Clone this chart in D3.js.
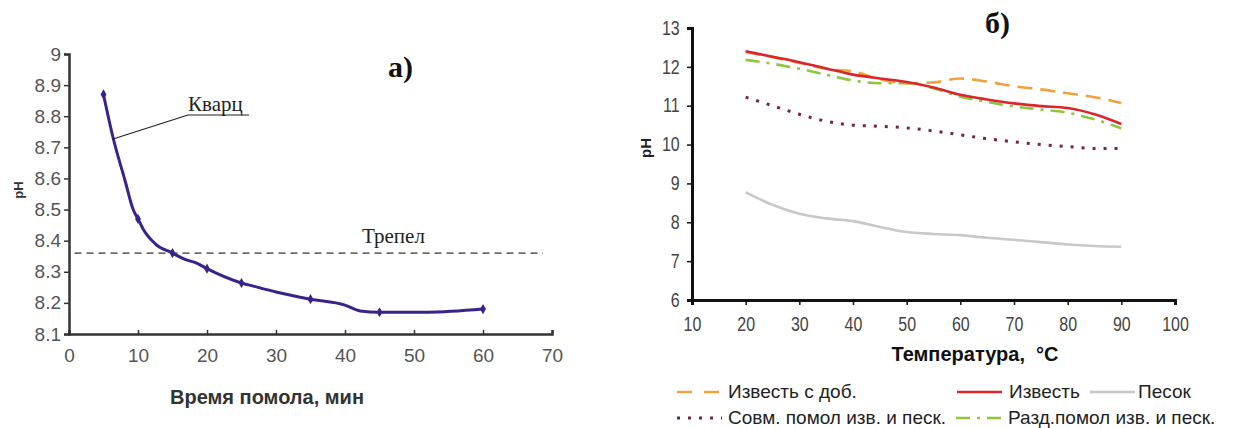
<!DOCTYPE html>
<html>
<head>
<meta charset="utf-8">
<script src="https://cdn.jsdelivr.net/npm/d3@7"></script>
<style>
  body { margin: 0; background: #fff; }
</style>
</head>
<body>
<div id="chart"></div>
<script>
// ---- data: panel a) ----
const grindTime = [5, 6.4, 8.1, 9.3, 10, 10.8, 12.5, 15, 16.8, 18.5, 20, 25, 26.7, 30, 35, 40, 42.2, 45, 52, 60];
const quartzPh  = [8.87, 8.73, 8.595, 8.5, 8.47, 8.435, 8.39, 8.36, 8.34, 8.328, 8.31, 8.264, 8.254, 8.235, 8.212, 8.193, 8.174, 8.17, 8.17, 8.18];
const markerTimes = [5, 10, 15, 20, 25, 35, 45, 60];
const tripoliPh = 8.36;
const aTicksX = [0, 10, 20, 30, 40, 50, 60, 70];
const aTicksY = [8.1, 8.2, 8.3, 8.4, 8.5, 8.6, 8.7, 8.8, 8.9, 9];

// ---- data: panel б) ----
const temps = [20, 25, 30, 35, 40, 45, 50, 55, 60, 65, 70, 75, 80, 85, 90];
const limeAdd  = [12.38, 12.25, 12.1, 11.95, 11.88, 11.68, 11.58, 11.6, 11.7, 11.62, 11.5, 11.42, 11.32, 11.22, 11.07];
const lime     = [12.4, 12.26, 12.12, 11.96, 11.8, 11.7, 11.61, 11.47, 11.28, 11.16, 11.06, 10.99, 10.94, 10.78, 10.53];
const sand     = [8.77, 8.45, 8.22, 8.1, 8.03, 7.88, 7.75, 7.7, 7.67, 7.6, 7.55, 7.49, 7.43, 7.39, 7.37];
const coGrind  = [11.22, 11.0, 10.78, 10.6, 10.5, 10.47, 10.43, 10.35, 10.25, 10.15, 10.07, 10.0, 9.95, 9.9, 9.9];
const sepGrind = [12.18, 12.08, 11.95, 11.8, 11.65, 11.58, 11.58, 11.45, 11.23, 11.1, 10.98, 10.9, 10.82, 10.65, 10.42];
const bTicksX = [10, 20, 30, 40, 50, 60, 70, 80, 90, 100];
const bTicksY = [6, 7, 8, 9, 10, 11, 12, 13];

const series = [
  { name: 'Известь с доб.', values: limeAdd, color: '#f0a23c', dash: '15,8', lx: 677, ly: 392, tx: 728 },
  { name: 'Известь', values: lime, color: '#d8262b', dash: null, lx: 957, ly: 392, tx: 1009 },
  { name: 'Песок', values: sand, color: '#c8c8c8', dash: null, lx: 1090, ly: 392, tx: 1138 },
  { name: 'Совм. помол изв. и песк.', values: coGrind, color: '#7b2340', dash: '3,8', lx: 677, ly: 418, tx: 728 },
  { name: 'Разд.помол изв. и песк.', values: sepGrind, color: '#8dc63f', dash: '14,7,3,7', lx: 956, ly: 418, tx: 1008 }
];

const sans = '"Liberation Sans", Arial, sans-serif';
const serif = '"Liberation Serif", "Times New Roman", serif';

const svg = d3.select('#chart')
  .append('svg')
  .attr('width', 1233)
  .attr('height', 428)
  .attr('font-family', sans);

// ================= panel a) =================
const xa = d3.scaleLinear().domain([0, 70]).range([69, 552]);
const ya = d3.scaleLinear().domain([8.1, 9]).range([334, 54]);

const axA = svg.append('g');
axA.append('g')
  .attr('transform', 'translate(0,334)')
  .call(d3.axisBottom(xa).tickValues(aTicksX).tickSize(-4).tickPadding(15).tickFormat(d3.format('d')))
  .call(g => g.selectAll('text').attr('font-size', 19).attr('font-family', sans).attr('fill', '#555'));
axA.append('g')
  .attr('transform', 'translate(69,0)')
  .call(d3.axisLeft(ya).tickValues(aTicksY).tickSize(5).tickPadding(3).tickFormat(d => +d.toFixed(1)))
  .call(g => g.selectAll('text').attr('font-size', 19).attr('font-family', sans).attr('fill', '#555'));
axA.selectAll('.domain').attr('stroke', '#333').attr('stroke-width', 2.5);
axA.selectAll('.tick line').attr('stroke', '#333').attr('stroke-width', 1.5);

// Трепел reference line
svg.append('line')
  .attr('x1', xa(0.8)).attr('x2', xa(68.7))
  .attr('y1', ya(tripoliPh)).attr('y2', ya(tripoliPh))
  .attr('stroke', '#333').attr('stroke-width', 1.3)
  .attr('stroke-dasharray', '7,5');

const quartz = grindTime.map((t, i) => ({ t, v: quartzPh[i] }));
svg.append('path')
  .datum(quartz)
  .attr('fill', 'none')
  .attr('stroke', '#3b2287')
  .attr('stroke-width', 3)
  .attr('d', d3.line().x(d => xa(d.t)).y(d => ya(d.v)).curve(d3.curveMonotoneX));

svg.selectAll('.mk')
  .data(quartz.filter(d => markerTimes.includes(d.t)))
  .enter()
  .append('path')
  .attr('transform', d => `translate(${xa(d.t)},${ya(d.v)})`)
  .attr('d', d3.symbol(d3.symbolDiamond, 30))
  .attr('fill', '#3b2287');

// labels
svg.append('text')
  .attr('x', 188).attr('y', 111)
  .attr('font-family', serif)
  .attr('font-size', 21).attr('fill', '#222')
  .text('Кварц');
svg.append('line')
  .attr('x1', 188).attr('x2', 249).attr('y1', 115).attr('y2', 115)
  .attr('stroke', '#222').attr('stroke-width', 1.2);
svg.append('line')
  .attr('x1', 113).attr('y1', 139).attr('x2', 188).attr('y2', 115)
  .attr('stroke', '#222').attr('stroke-width', 1.3);

svg.append('text')
  .attr('x', 362).attr('y', 243)
  .attr('font-family', serif)
  .attr('font-size', 21).attr('fill', '#222')
  .text('Трепел');

svg.append('text')
  .attr('x', 388).attr('y', 77)
  .attr('font-family', serif)
  .attr('font-size', 30).attr('font-weight', 'bold').attr('fill', '#111')
  .text('а)');

svg.append('text')
  .attr('transform', 'translate(23,190) rotate(-90)')
  .attr('text-anchor', 'middle')
  .attr('font-size', 13).attr('font-weight', 'bold').attr('fill', '#333')
  .text('pH');

svg.append('text')
  .attr('x', 267).attr('y', 404)
  .attr('text-anchor', 'middle')
  .attr('font-size', 20).attr('font-weight', 'bold').attr('fill', '#333')
  .text('Время помола, мин');

// ================= panel б) =================
const xb = d3.scaleLinear().domain([10, 100]).range([692, 1175]);
const yb = d3.scaleLinear().domain([6, 13]).range([300, 28]);

// tick labels of this panel are condensed in the source, squeeze them
const squeeze = 'scale(0.82,1)';
const axB = svg.append('g');
axB.append('g')
  .attr('transform', 'translate(0,300)')
  .call(d3.axisBottom(xb).tickValues(bTicksX).tickSize(5).tickPadding(12).tickFormat(d3.format('d')))
  .call(g => g.selectAll('text').attr('font-size', 19.5).attr('font-family', sans).attr('fill', '#444').attr('transform', squeeze));
axB.append('g')
  .attr('transform', 'translate(692,0)')
  .call(d3.axisLeft(yb).tickValues(bTicksY).tickSize(5).tickPadding(10).tickFormat(d3.format('d')))
  .call(g => g.selectAll('text').attr('font-size', 19.5).attr('font-family', sans).attr('fill', '#444').attr('transform', squeeze));
axB.selectAll('.domain').attr('stroke', '#111').attr('stroke-width', 3);
axB.selectAll('.tick line').attr('stroke', '#111').attr('stroke-width', 1.5);

const lineB = d3.line()
  .x((d, i) => xb(temps[i]))
  .y(d => yb(d))
  .curve(d3.curveMonotoneX);

// draw order: gray, dotted, orange, green, red on top
[2, 3, 0, 4, 1].forEach(k => {
  const s = series[k];
  svg.append('path')
    .datum(s.values)
    .attr('fill', 'none')
    .attr('stroke', s.color)
    .attr('stroke-width', s.dash === '3,8' ? 3 : 2.6)
    .attr('stroke-dasharray', s.dash)
    .attr('d', lineB);
});

svg.append('text')
  .attr('x', 985).attr('y', 33)
  .attr('font-family', serif)
  .attr('font-size', 30).attr('font-weight', 'bold').attr('fill', '#111')
  .text('б)');

svg.append('text')
  .attr('transform', 'translate(651,148) rotate(-90)')
  .attr('text-anchor', 'middle')
  .attr('font-size', 15).attr('font-weight', 'bold').attr('fill', '#222')
  .text('pH');

svg.append('text')
  .attr('x', 975).attr('y', 361)
  .attr('text-anchor', 'middle')
  .attr('font-size', 20).attr('font-weight', 'bold').attr('fill', '#111')
  .text('Температура,\u00a0 °C');

// legend
const leg = svg.selectAll('.leg')
  .data(series)
  .enter()
  .append('g');
leg.append('line')
  .attr('x1', d => d.lx).attr('x2', d => d.lx + 45)
  .attr('y1', d => d.ly).attr('y2', d => d.ly)
  .attr('stroke', d => d.color)
  .attr('stroke-width', d => d.dash === '3,8' ? 3 : 2.6)
  .attr('stroke-dasharray', d => d.dash === '15,8' ? '15,12' : d.dash);
leg.append('text')
  .attr('x', d => d.tx).attr('y', d => d.ly + 6)
  .attr('font-size', 19).attr('fill', '#222')
  .text(d => d.name);
</script>
</body>
</html>
